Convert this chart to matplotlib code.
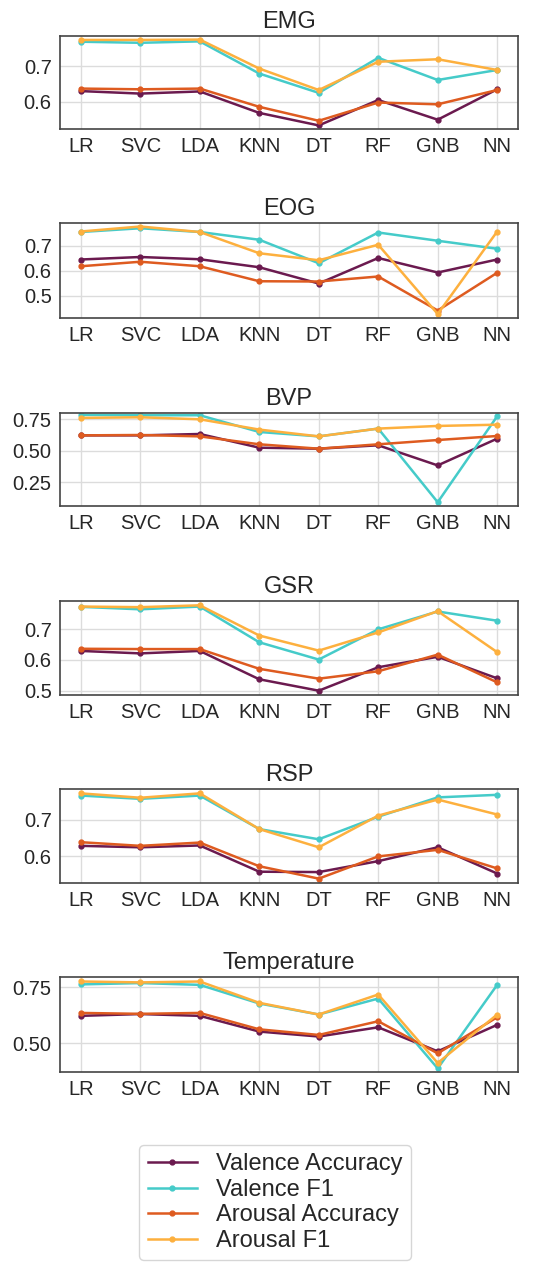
import matplotlib
matplotlib.use("Agg")
import matplotlib.pyplot as plt
from matplotlib.ticker import MultipleLocator, FormatStrFormatter

plt.rcParams['font.family'] = ['Liberation Sans', 'DejaVu Sans']

models = ["LR", "SVC", "LDA", "KNN", "DT", "RF", "GNB", "NN"]
signals = ["EMG", "EOG", "BVP", "GSR", "RSP", "Temperature"]
series_names = ["Valence Accuracy", "Valence F1", "Arousal Accuracy", "Arousal F1"]

emg_val_acc = [0.630, 0.623, 0.629, 0.569, 0.534, 0.605, 0.550, 0.635]
emg_val_f1  = [0.768, 0.765, 0.769, 0.679, 0.625, 0.723, 0.661, 0.689]
emg_aro_acc = [0.637, 0.635, 0.637, 0.586, 0.547, 0.598, 0.593, 0.633]
emg_aro_f1  = [0.773, 0.773, 0.774, 0.693, 0.633, 0.712, 0.719, 0.689]

eog_val_acc = [0.645, 0.655, 0.646, 0.614, 0.549, 0.651, 0.593, 0.645]
eog_val_f1  = [0.755, 0.770, 0.755, 0.724, 0.630, 0.753, 0.720, 0.688]
eog_aro_acc = [0.618, 0.636, 0.618, 0.558, 0.557, 0.577, 0.441, 0.592]
eog_aro_f1  = [0.757, 0.777, 0.755, 0.670, 0.642, 0.704, 0.427, 0.757]

bvp_val_acc = [0.622, 0.622, 0.633, 0.524, 0.516, 0.543, 0.383, 0.596]
bvp_val_f1  = [0.785, 0.782, 0.782, 0.649, 0.614, 0.676, 0.090, 0.774]
bvp_aro_acc = [0.622, 0.625, 0.614, 0.551, 0.516, 0.551, 0.585, 0.617]
bvp_aro_f1  = [0.761, 0.766, 0.750, 0.668, 0.614, 0.676, 0.697, 0.707]

gsr_val_acc = [0.629, 0.621, 0.629, 0.537, 0.500, 0.576, 0.610, 0.540]
gsr_val_f1  = [0.772, 0.764, 0.773, 0.657, 0.601, 0.699, 0.757, 0.727]
gsr_aro_acc = [0.636, 0.635, 0.635, 0.571, 0.539, 0.563, 0.617, 0.527]
gsr_aro_f1  = [0.773, 0.771, 0.777, 0.679, 0.630, 0.689, 0.758, 0.625]

rsp_val_acc = [0.629, 0.625, 0.630, 0.558, 0.557, 0.587, 0.625, 0.553]
rsp_val_f1  = [0.767, 0.758, 0.767, 0.675, 0.647, 0.709, 0.762, 0.769]
rsp_aro_acc = [0.639, 0.629, 0.638, 0.573, 0.539, 0.600, 0.618, 0.567]
rsp_aro_f1  = [0.773, 0.761, 0.773, 0.675, 0.625, 0.712, 0.756, 0.715]

temp_val_acc = [0.622, 0.630, 0.622, 0.552, 0.530, 0.571, 0.464, 0.582]
temp_val_f1  = [0.762, 0.768, 0.760, 0.677, 0.628, 0.699, 0.388, 0.760]
temp_aro_acc = [0.635, 0.631, 0.635, 0.562, 0.537, 0.598, 0.455, 0.616]
temp_aro_f1  = [0.775, 0.771, 0.775, 0.680, 0.628, 0.717, 0.412, 0.628]

data = {
    "EMG": [emg_val_acc, emg_val_f1, emg_aro_acc, emg_aro_f1],
    "EOG": [eog_val_acc, eog_val_f1, eog_aro_acc, eog_aro_f1],
    "BVP": [bvp_val_acc, bvp_val_f1, bvp_aro_acc, bvp_aro_f1],
    "GSR": [gsr_val_acc, gsr_val_f1, gsr_aro_acc, gsr_aro_f1],
    "RSP": [rsp_val_acc, rsp_val_f1, rsp_aro_acc, rsp_aro_f1],
    "Temperature": [temp_val_acc, temp_val_f1, temp_aro_acc, temp_aro_f1],
}

colors = ["#6b1a4f", "#45cbc9", "#de5b20", "#fdb03e"]

ylims = {
    "EMG": (0.524, 0.784),
    "EOG": (0.411, 0.791),
    "BVP": (0.060, 0.800),
    "GSR": (0.486, 0.791),
    "RSP": (0.527, 0.785),
    "Temperature": (0.372, 0.795),
}
ysteps = {"EMG": 0.1, "EOG": 0.1, "BVP": 0.25, "GSR": 0.1, "RSP": 0.1, "Temperature": 0.25}
yfmt = {"EMG": "%.1f", "EOG": "%.1f", "BVP": "%.2f", "GSR": "%.1f", "RSP": "%.1f", "Temperature": "%.2f"}

W, H = 550, 1264
fig = plt.figure(figsize=(W / 100, H / 100), dpi=100)
fig.patch.set_facecolor("white")

# axes pixel boxes (top, bottom)
boxes = [(36, 129), (223, 318), (413, 506), (601, 695), (789, 883), (977, 1072)]
left_px, right_px = 60, 518

x = list(range(len(models)))
handles = []
for sig, (top, bot) in zip(signals, boxes):
    ax = fig.add_axes([left_px / W, 1 - bot / H, (right_px - left_px) / W, (bot - top) / H])
    ax.set_facecolor("white")
    for vals, c, name in zip(data[sig], colors, series_names):
        h, = ax.plot(x, vals, color=c, lw=1.8, marker="o", markersize=3.5, label=name)
        if sig == "EMG":
            handles.append(h)
    ax.set_xticks(x)
    ax.set_xticklabels(models)
    ax.set_ylim(*ylims[sig])
    ax.yaxis.set_major_locator(MultipleLocator(ysteps[sig]))
    ax.yaxis.set_major_formatter(FormatStrFormatter(yfmt[sig]))
    ax.grid(True, color="#dcdcdc", lw=1.0)
    ax.set_axisbelow(True)
    ax.tick_params(axis="both", length=0, labelsize=14.5, colors="#262626", pad=6)
    for sp in ax.spines.values():
        sp.set_color("#444444")
        sp.set_linewidth(1.2)
    ax.set_title(sig, fontsize=17, color="#262626", pad=6)

leg = fig.legend(handles, series_names, loc="upper center", bbox_to_anchor=(0.5, 1 - 1145 / H),
                 borderaxespad=0, fontsize=17, frameon=True, handlelength=2.1,
                 labelspacing=0.15, borderpad=0.35, handletextpad=0.8)
leg.get_frame().set_edgecolor("#cccccc")
for t in leg.get_texts():
    t.set_color("#262626")

fig.savefig("out.png", dpi=100)
